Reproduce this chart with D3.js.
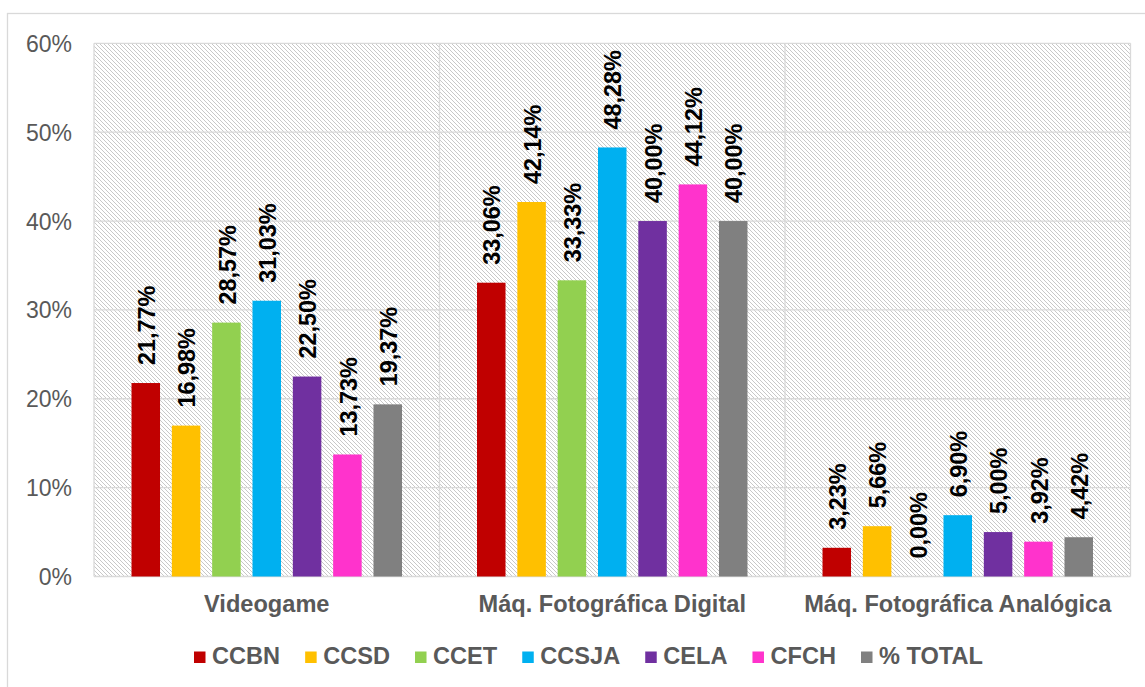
<!DOCTYPE html>
<html>
<head>
<meta charset="utf-8">
<script src="https://cdn.jsdelivr.net/npm/d3@7"></script>
<style>
  html, body { margin: 0; padding: 0; background: #fff; }
  svg { display: block; font-family: "Liberation Sans", Arial, sans-serif; }
</style>
</head>
<body>
<svg id="chart" width="1145" height="687"></svg>
<script>
// Categories on the x axis
const categories = ["Videogame", "Máq. Fotográfica Digital", "Máq. Fotográfica Analógica"];

// One series per centre, values in percent, ordered like the categories
const seriesNames = ["CCBN", "CCSD", "CCET", "CCSJA", "CELA", "CFCH", "% TOTAL"];
const seriesColors = ["#c00000", "#ffc000", "#92d050", "#00b0f0", "#7030a0", "#ff33cc", "#808080"];
const CCBN  = [21.77, 33.06, 3.23];
const CCSD  = [16.98, 42.14, 5.66];
const CCET  = [28.57, 33.33, 0.00];
const CCSJA = [31.03, 48.28, 6.90];
const CELA  = [22.50, 40.00, 5.00];
const CFCH  = [13.73, 44.12, 3.92];
const TOTAL = [19.37, 40.00, 4.42];
const seriesValues = [CCBN, CCSD, CCET, CCSJA, CELA, CFCH, TOTAL];

// Y axis ticks
const yTicks = [0, 10, 20, 30, 40, 50, 60];

const svg = d3.select("#chart");
const plot = { left: 94, right: 1130.5, top: 43.3, bottom: 576.5 };
const gridColor = "#d9d9d9";
const textGray = "#595959";

// Outer chart frame (runs off the right and bottom of the canvas)
svg.append("rect")
  .attr("x", 7.5).attr("y", 13.5)
  .attr("width", 1160).attr("height", 700)
  .attr("fill", "#fff")
  .attr("stroke", gridColor).attr("stroke-width", 1.3);

// Light downward-diagonal hatch for the plot area
const defs = svg.append("defs");
const pat = defs.append("pattern")
  .attr("id", "hatch")
  .attr("patternUnits", "userSpaceOnUse")
  .attr("width", 4).attr("height", 4);
pat.append("rect").attr("width", 4).attr("height", 4).attr("fill", "#fff");
pat.append("path")
  .attr("d", "M-1,-1 L5,5 M-1,3 L1,5 M3,-1 L5,1")
  .attr("stroke", "#c8c8c8").attr("stroke-width", 1);

svg.append("rect")
  .attr("x", plot.left).attr("y", plot.top)
  .attr("width", plot.right - plot.left).attr("height", plot.bottom - plot.top)
  .attr("fill", "url(#hatch)");

// Scales
const x0 = d3.scaleBand()
  .domain(categories)
  .range([plot.left, plot.right])
  .paddingInner(0).paddingOuter(0);

const x1 = d3.scaleBand()
  .domain(seriesNames)
  .range([0, x0.bandwidth()])
  .paddingInner(0.293).paddingOuter(0.93);

const y = d3.scaleLinear()
  .domain([0, 60])
  .range([plot.bottom, plot.top]);

// Horizontal gridlines
svg.append("g")
  .selectAll("line")
  .data(yTicks)
  .join("line")
  .attr("x1", plot.left).attr("x2", plot.right)
  .attr("y1", d => y(d)).attr("y2", d => y(d))
  .attr("stroke", gridColor).attr("stroke-width", 1.3);

// Vertical category separators and plot borders
const vlines = categories.map(c => x0(c)).concat([plot.right]);
svg.append("g")
  .selectAll("line")
  .data(vlines)
  .join("line")
  .attr("x1", d => d).attr("x2", d => d)
  .attr("y1", plot.top).attr("y2", plot.bottom)
  .attr("stroke", gridColor).attr("stroke-width", 1.3);

// Y axis labels
const yAxis = d3.axisLeft(y)
  .tickValues(yTicks)
  .tickFormat(d => d + "%")
  .tickSize(0)
  .tickPadding(0);
const gy = svg.append("g")
  .attr("transform", `translate(72,0)`)
  .call(yAxis);
gy.select(".domain").remove();
gy.selectAll("text")
  .attr("fill", textGray)
  .attr("font-size", 23)
  .attr("font-family", "'Liberation Sans', Arial, sans-serif")
  .attr("dy", "0.35em");

// X axis category labels
const xAxis = d3.axisBottom(x0).tickSize(0).tickPadding(0);
const gx = svg.append("g")
  .attr("transform", `translate(0,${plot.bottom})`)
  .call(xAxis);
gx.select(".domain").remove();
gx.selectAll("text")
  .attr("fill", textGray)
  .attr("font-size", 23.6)
  .attr("font-weight", "bold")
  .attr("font-family", "'Liberation Sans', Arial, sans-serif")
  .attr("y", 35.5)
  .attr("dy", 0);

// Bars and value labels
const rows = [];
categories.forEach((c, ci) => {
  seriesNames.forEach((s, si) => {
    rows.push({ cat: c, series: s, value: seriesValues[si][ci], color: seriesColors[si] });
  });
});

const groups = svg.append("g");
groups.selectAll("rect")
  .data(rows.filter(d => d.value > 0))
  .join("rect")
  .attr("x", d => x0(d.cat) + x1(d.series))
  .attr("y", d => y(d.value))
  .attr("width", x1.bandwidth())
  .attr("height", d => y(0) - y(d.value))
  .attr("fill", d => d.color);

const fmt = v => v.toFixed(2).replace(".", ",") + "%";
svg.append("g")
  .selectAll("text")
  .data(rows)
  .join("text")
  .attr("transform", d => `translate(${x0(d.cat) + x1(d.series) + x1.bandwidth() / 2 + 1},${y(d.value) - 18}) rotate(-90)`)
  .attr("text-anchor", "start")
  .attr("dy", "0.35em")
  .attr("font-size", 23.4)
  .attr("font-weight", "bold")
  .attr("fill", "#000")
  .text(d => fmt(d.value));

// Legend
const legend = svg.append("g");
let lx = 194;
seriesNames.forEach((s, i) => {
  legend.append("rect")
    .attr("x", lx).attr("y", 651.5)
    .attr("width", 11.5).attr("height", 11.5)
    .attr("fill", seriesColors[i]);
  const t = legend.append("text")
    .attr("x", lx + 18).attr("y", 664)
    .attr("font-size", 23.6)
    .attr("font-weight", "bold")
    .attr("fill", textGray)
    .text(s);
  lx += 18 + t.node().getComputedTextLength() + 25;
});
</script>
</body>
</html>
